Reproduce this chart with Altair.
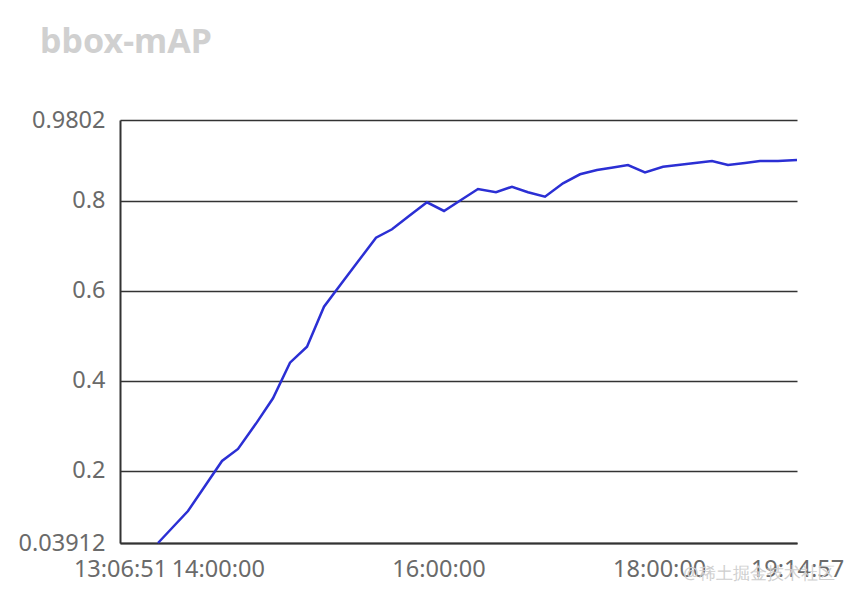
import altair as alt
import pandas as pd

# Data
times = [
    "13:27:31", "13:35:40", "13:43:49", "13:53:04", "14:02:19", "14:11:01",
    "14:20:48", "14:30:02", "14:39:17", "14:48:32", "14:57:46", "15:07:01",
    "15:16:15", "15:26:03", "15:34:45", "15:43:59", "15:53:46", "16:03:01",
    "16:12:15", "16:21:30", "16:31:17", "16:39:59", "16:48:41", "16:57:56",
    "17:07:43", "17:16:58", "17:26:12", "17:34:54", "17:43:03", "17:52:18",
    "18:02:05", "18:10:15", "18:19:29", "18:28:44", "18:37:26", "18:46:40",
    "18:54:50", "19:04:37", "19:14:57",
]
values = [
    0.03912, 0.0747, 0.1103, 0.166, 0.2216, 0.2483,
    0.3048, 0.3611, 0.4403, 0.4759, 0.5648, 0.6151,
    0.6652, 0.7184, 0.737, 0.7666, 0.7971, 0.7778,
    0.8022, 0.8267, 0.8194, 0.8318, 0.8194, 0.8096,
    0.8394, 0.8594, 0.869, 0.8745, 0.8801, 0.8638,
    0.8763, 0.8801, 0.8845, 0.889, 0.8801, 0.8845,
    0.889, 0.889, 0.8912,
]
y_ticks = [0.03912, 0.2, 0.4, 0.6, 0.8, 0.9802]
x_ticks = ["13:06:51", "14:00:00", "16:00:00", "18:00:00", "19:14:57"]
title_text = "bbox-mAP"
watermark = "@稀土掘金技术社区"

DAY = "2023-01-01T"


def dt(s):
    h, m, sec = (int(p) for p in s.split(":"))
    return alt.DateTime(year=2023, month=1, date=1, hours=h, minutes=m, seconds=sec)


df = pd.DataFrame({"time": [DAY + t for t in times], "value": values})

FONT = "Noto Sans"

line = alt.Chart(df).mark_line(color="#2b2fd4", strokeWidth=2.5).encode(
    x=alt.X(
        "time:T",
        scale=alt.Scale(domain=[dt(x_ticks[0]), dt(x_ticks[-1])], nice=False),
        axis=alt.Axis(
            title=None,
            values=[dt(t) for t in x_ticks],
            format="%H:%M:%S",
            grid=False,
            ticks=False,
            domain=True,
            domainColor="#333333",
            domainWidth=2,
            labelFont=FONT,
            labelFontSize=23.5,
            labelColor="#6a6a6a",
            labelPadding=14,
            labelOverlap=False,
            labelBound=False,
            labelFlush=False,
            labelAlign="center",
        ),
    ),
    y=alt.Y(
        "value:Q",
        scale=alt.Scale(domain=[y_ticks[0], y_ticks[-1]], nice=False, zero=False),
        axis=alt.Axis(
            title=None,
            values=y_ticks,
            format=".4~r",
            grid=True,
            gridColor="#333333",
            gridWidth=1.6,
            ticks=False,
            domain=True,
            domainColor="#333333",
            domainWidth=2,
            labelFont=FONT,
            labelFontSize=23.5,
            labelColor="#6a6a6a",
            labelPadding=15,
            labelOverlap=False,
            labelBound=False,
            labelFlush=False,
        ),
    ),
)

wm = alt.Chart(pd.DataFrame({"t": [watermark]})).mark_text(
    font=FONT, fontSize=17, color="#cfcfcf", align="center", baseline="middle"
).encode(text="t:N", x=alt.value(639), y=alt.value(454))

chart = alt.layer(line, wm).properties(
    width=677,
    height=423,
    autosize=alt.AutoSizeParams(type="none"),
    padding={"left": 112, "top": 112, "right": 51, "bottom": 51},
    title=alt.TitleParams(
        text=title_text,
        anchor="start",
        frame="group",
        font=FONT,
        fontSize=34,
        fontWeight="bold",
        color="#d0d0d0",
        baseline="alphabetic",
        dx=-80,
        offset=21,
    ),
).configure_view(stroke=None)

chart.save("out.html", embed_options={"renderer": "svg", "actions": False})
